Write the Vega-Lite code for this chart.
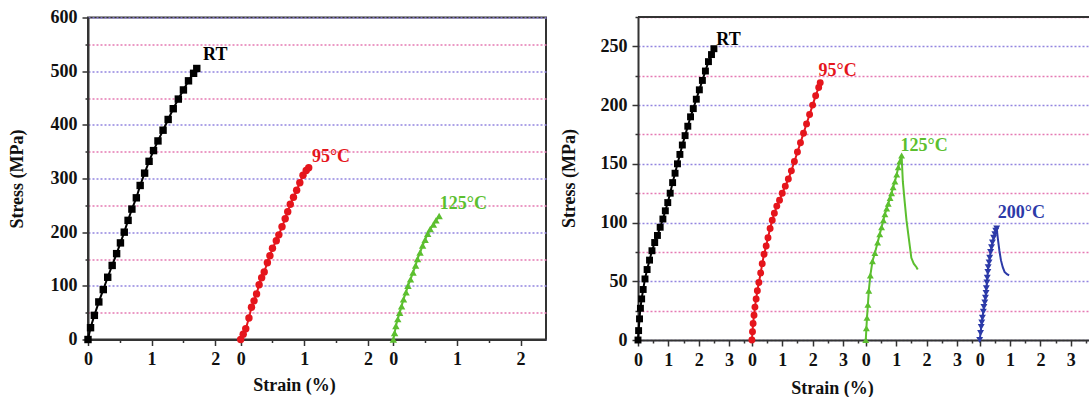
{
  "$schema": "https://vega.github.io/schema/vega-lite/v6.json",
  "background": "white",
  "padding": {"left": 7, "top": 7, "right": 0, "bottom": 0},
  "spacing": 92,
  "bounds": "flush",
  "center": true,
  "config": {
    "view": {"stroke": null},
    "font": "Liberation Serif",
    "axis": {
      "labelFont": "Liberation Serif", "labelFontWeight": "bold", "labelFontSize": 18, "labelColor": "#111",
      "titleFont": "Liberation Serif", "titleFontWeight": "bold", "titleFontSize": 18, "titleColor": "#111",
      "domainColor": "#333", "domainWidth": 2, "tickColor": "#333", "tickWidth": 1.5,
      "gridWidth": 1.5, "gridDash": [2, 2], "labelFlush": false, "labelOverlap": false, "labelBound": false
    }
  },
  "datasets": {
    "left": [
      {"series": "RT", "strain": 0, "stress": 0}, {"series": "RT", "strain": 0.04, "stress": 22}, {"series": "RT", "strain": 0.1, "stress": 45}, {"series": "RT", "strain": 0.17, "stress": 70}, {"series": "RT", "strain": 0.24, "stress": 93}, {"series": "RT", "strain": 0.31, "stress": 116}, {"series": "RT", "strain": 0.38, "stress": 138}, {"series": "RT", "strain": 0.45, "stress": 160}, {"series": "RT", "strain": 0.51, "stress": 180}, {"series": "RT", "strain": 0.57, "stress": 200}, {"series": "RT", "strain": 0.63, "stress": 222}, {"series": "RT", "strain": 0.69, "stress": 243}, {"series": "RT", "strain": 0.76, "stress": 264}, {"series": "RT", "strain": 0.82, "stress": 287}, {"series": "RT", "strain": 0.89, "stress": 310}, {"series": "RT", "strain": 0.96, "stress": 332}, {"series": "RT", "strain": 1.03, "stress": 352}, {"series": "RT", "strain": 1.1, "stress": 370}, {"series": "RT", "strain": 1.18, "stress": 390}, {"series": "RT", "strain": 1.26, "stress": 410}, {"series": "RT", "strain": 1.34, "stress": 430}, {"series": "RT", "strain": 1.42, "stress": 448}, {"series": "RT", "strain": 1.5, "stress": 465}, {"series": "RT", "strain": 1.58, "stress": 482}, {"series": "RT", "strain": 1.66, "stress": 496}, {"series": "RT", "strain": 1.71, "stress": 505},
      {"series": "95°C", "strain": 2.4, "stress": 0}, {"series": "95°C", "strain": 2.44, "stress": 10}, {"series": "95°C", "strain": 2.48, "stress": 20}, {"series": "95°C", "strain": 2.53, "stress": 40}, {"series": "95°C", "strain": 2.57, "stress": 60}, {"series": "95°C", "strain": 2.61, "stress": 72}, {"series": "95°C", "strain": 2.65, "stress": 85}, {"series": "95°C", "strain": 2.69, "stress": 102}, {"series": "95°C", "strain": 2.73, "stress": 115}, {"series": "95°C", "strain": 2.77, "stress": 126}, {"series": "95°C", "strain": 2.82, "stress": 143}, {"series": "95°C", "strain": 2.86, "stress": 156}, {"series": "95°C", "strain": 2.9, "stress": 170}, {"series": "95°C", "strain": 2.96, "stress": 184}, {"series": "95°C", "strain": 3.0, "stress": 195}, {"series": "95°C", "strain": 3.05, "stress": 210}, {"series": "95°C", "strain": 3.1, "stress": 225}, {"series": "95°C", "strain": 3.14, "stress": 238}, {"series": "95°C", "strain": 3.18, "stress": 252}, {"series": "95°C", "strain": 3.23, "stress": 265}, {"series": "95°C", "strain": 3.28, "stress": 278}, {"series": "95°C", "strain": 3.33, "stress": 292}, {"series": "95°C", "strain": 3.38, "stress": 306}, {"series": "95°C", "strain": 3.43, "stress": 315}, {"series": "95°C", "strain": 3.47, "stress": 320},
      {"series": "125°C", "strain": 4.8, "stress": 0}, {"series": "125°C", "strain": 4.82, "stress": 12}, {"series": "125°C", "strain": 4.84, "stress": 25}, {"series": "125°C", "strain": 4.87, "stress": 38}, {"series": "125°C", "strain": 4.9, "stress": 50}, {"series": "125°C", "strain": 4.93, "stress": 62}, {"series": "125°C", "strain": 4.96, "stress": 75}, {"series": "125°C", "strain": 5.0, "stress": 88}, {"series": "125°C", "strain": 5.03, "stress": 100}, {"series": "125°C", "strain": 5.07, "stress": 112}, {"series": "125°C", "strain": 5.11, "stress": 125}, {"series": "125°C", "strain": 5.15, "stress": 138}, {"series": "125°C", "strain": 5.18, "stress": 150}, {"series": "125°C", "strain": 5.22, "stress": 162}, {"series": "125°C", "strain": 5.26, "stress": 175}, {"series": "125°C", "strain": 5.3, "stress": 186}, {"series": "125°C", "strain": 5.34, "stress": 197}, {"series": "125°C", "strain": 5.38, "stress": 206}, {"series": "125°C", "strain": 5.43, "stress": 214}, {"series": "125°C", "strain": 5.47, "stress": 222}, {"series": "125°C", "strain": 5.52, "stress": 230}
    ],
    "leftLabels": [
      {"series": "RT", "strain": 2.0, "stress": 531, "label": "RT"},
      {"series": "95°C", "strain": 3.82, "stress": 340, "label": "95°C"},
      {"series": "125°C", "strain": 5.9, "stress": 253, "label": "125°C"}
    ],
    "right": [
      {"series": "RT", "strain": 0, "stress": 0}, {"series": "RT", "strain": 0.02, "stress": 8}, {"series": "RT", "strain": 0.05, "stress": 18}, {"series": "RT", "strain": 0.08, "stress": 27}, {"series": "RT", "strain": 0.12, "stress": 35}, {"series": "RT", "strain": 0.17, "stress": 43}, {"series": "RT", "strain": 0.23, "stress": 52}, {"series": "RT", "strain": 0.3, "stress": 60}, {"series": "RT", "strain": 0.38, "stress": 68}, {"series": "RT", "strain": 0.46, "stress": 76}, {"series": "RT", "strain": 0.55, "stress": 83}, {"series": "RT", "strain": 0.64, "stress": 89}, {"series": "RT", "strain": 0.73, "stress": 96}, {"series": "RT", "strain": 0.82, "stress": 103}, {"series": "RT", "strain": 0.9, "stress": 110}, {"series": "RT", "strain": 0.98, "stress": 117}, {"series": "RT", "strain": 1.06, "stress": 125}, {"series": "RT", "strain": 1.14, "stress": 134}, {"series": "RT", "strain": 1.22, "stress": 142}, {"series": "RT", "strain": 1.3, "stress": 150}, {"series": "RT", "strain": 1.38, "stress": 158}, {"series": "RT", "strain": 1.46, "stress": 166}, {"series": "RT", "strain": 1.55, "stress": 174}, {"series": "RT", "strain": 1.64, "stress": 182}, {"series": "RT", "strain": 1.73, "stress": 190}, {"series": "RT", "strain": 1.82, "stress": 197}, {"series": "RT", "strain": 1.92, "stress": 205}, {"series": "RT", "strain": 2.02, "stress": 213}, {"series": "RT", "strain": 2.12, "stress": 221}, {"series": "RT", "strain": 2.22, "stress": 229}, {"series": "RT", "strain": 2.32, "stress": 237}, {"series": "RT", "strain": 2.42, "stress": 243}, {"series": "RT", "strain": 2.5, "stress": 248},
      {"series": "95°C", "strain": 3.75, "stress": 0}, {"series": "95°C", "strain": 3.77, "stress": 7}, {"series": "95°C", "strain": 3.79, "stress": 14}, {"series": "95°C", "strain": 3.82, "stress": 21}, {"series": "95°C", "strain": 3.85, "stress": 28}, {"series": "95°C", "strain": 3.89, "stress": 35}, {"series": "95°C", "strain": 3.93, "stress": 42}, {"series": "95°C", "strain": 3.98, "stress": 49}, {"series": "95°C", "strain": 4.04, "stress": 57}, {"series": "95°C", "strain": 4.09, "stress": 65}, {"series": "95°C", "strain": 4.15, "stress": 73}, {"series": "95°C", "strain": 4.22, "stress": 80}, {"series": "95°C", "strain": 4.28, "stress": 87}, {"series": "95°C", "strain": 4.35, "stress": 95}, {"series": "95°C", "strain": 4.42, "stress": 102}, {"series": "95°C", "strain": 4.49, "stress": 108}, {"series": "95°C", "strain": 4.57, "stress": 114}, {"series": "95°C", "strain": 4.66, "stress": 119}, {"series": "95°C", "strain": 4.75, "stress": 125}, {"series": "95°C", "strain": 4.85, "stress": 131}, {"series": "95°C", "strain": 4.95, "stress": 137}, {"series": "95°C", "strain": 5.05, "stress": 144}, {"series": "95°C", "strain": 5.15, "stress": 152}, {"series": "95°C", "strain": 5.25, "stress": 160}, {"series": "95°C", "strain": 5.35, "stress": 168}, {"series": "95°C", "strain": 5.45, "stress": 176}, {"series": "95°C", "strain": 5.55, "stress": 184}, {"series": "95°C", "strain": 5.65, "stress": 192}, {"series": "95°C", "strain": 5.75, "stress": 200}, {"series": "95°C", "strain": 5.85, "stress": 208}, {"series": "95°C", "strain": 5.95, "stress": 215}, {"series": "95°C", "strain": 6.0, "stress": 219},
      {"series": "125°C", "strain": 7.5, "stress": 0}, {"series": "125°C", "strain": 7.52, "stress": 10}, {"series": "125°C", "strain": 7.54, "stress": 19}, {"series": "125°C", "strain": 7.57, "stress": 30}, {"series": "125°C", "strain": 7.6, "stress": 42}, {"series": "125°C", "strain": 7.65, "stress": 55}, {"series": "125°C", "strain": 7.72, "stress": 67}, {"series": "125°C", "strain": 7.8, "stress": 74}, {"series": "125°C", "strain": 7.89, "stress": 83}, {"series": "125°C", "strain": 7.96, "stress": 90}, {"series": "125°C", "strain": 8.02, "stress": 96}, {"series": "125°C", "strain": 8.08, "stress": 102}, {"series": "125°C", "strain": 8.13, "stress": 107}, {"series": "125°C", "strain": 8.19, "stress": 112}, {"series": "125°C", "strain": 8.24, "stress": 116}, {"series": "125°C", "strain": 8.3, "stress": 121}, {"series": "125°C", "strain": 8.35, "stress": 125}, {"series": "125°C", "strain": 8.4, "stress": 130}, {"series": "125°C", "strain": 8.46, "stress": 135}, {"series": "125°C", "strain": 8.52, "stress": 141}, {"series": "125°C", "strain": 8.57, "stress": 147}, {"series": "125°C", "strain": 8.62, "stress": 152}, {"series": "125°C", "strain": 8.68, "stress": 157},
      {"series": "125°C", "strain": 8.72, "stress": 135, "phase": "softening"}, {"series": "125°C", "strain": 8.78, "stress": 118, "phase": "softening"}, {"series": "125°C", "strain": 8.84, "stress": 102, "phase": "softening"}, {"series": "125°C", "strain": 8.9, "stress": 90, "phase": "softening"}, {"series": "125°C", "strain": 8.95, "stress": 80, "phase": "softening"}, {"series": "125°C", "strain": 9.0, "stress": 70, "phase": "softening"}, {"series": "125°C", "strain": 9.08, "stress": 65, "phase": "softening"}, {"series": "125°C", "strain": 9.17, "stress": 62, "phase": "softening"}, {"series": "125°C", "strain": 9.21, "stress": 60, "phase": "softening"},
      {"series": "200°C", "strain": 11.25, "stress": 0}, {"series": "200°C", "strain": 11.28, "stress": 6}, {"series": "200°C", "strain": 11.3, "stress": 11}, {"series": "200°C", "strain": 11.32, "stress": 15}, {"series": "200°C", "strain": 11.34, "stress": 19}, {"series": "200°C", "strain": 11.37, "stress": 24}, {"series": "200°C", "strain": 11.39, "stress": 28}, {"series": "200°C", "strain": 11.42, "stress": 32}, {"series": "200°C", "strain": 11.44, "stress": 36}, {"series": "200°C", "strain": 11.46, "stress": 40}, {"series": "200°C", "strain": 11.47, "stress": 44}, {"series": "200°C", "strain": 11.49, "stress": 49}, {"series": "200°C", "strain": 11.5, "stress": 53}, {"series": "200°C", "strain": 11.52, "stress": 58}, {"series": "200°C", "strain": 11.53, "stress": 62}, {"series": "200°C", "strain": 11.56, "stress": 66}, {"series": "200°C", "strain": 11.58, "stress": 70}, {"series": "200°C", "strain": 11.61, "stress": 75}, {"series": "200°C", "strain": 11.64, "stress": 79}, {"series": "200°C", "strain": 11.67, "stress": 83}, {"series": "200°C", "strain": 11.71, "stress": 87}, {"series": "200°C", "strain": 11.75, "stress": 90}, {"series": "200°C", "strain": 11.78, "stress": 93}, {"series": "200°C", "strain": 11.81, "stress": 95},
      {"series": "200°C", "strain": 11.85, "stress": 86, "phase": "softening"}, {"series": "200°C", "strain": 11.9, "stress": 76, "phase": "softening"}, {"series": "200°C", "strain": 11.95, "stress": 68, "phase": "softening"}, {"series": "200°C", "strain": 12.01, "stress": 62, "phase": "softening"}, {"series": "200°C", "strain": 12.07, "stress": 58, "phase": "softening"}, {"series": "200°C", "strain": 12.15, "stress": 56, "phase": "softening"}, {"series": "200°C", "strain": 12.22, "stress": 55, "phase": "softening"}
    ],
    "rightLabels": [
      {"series": "RT", "strain": 2.98, "stress": 255, "label": "RT"},
      {"series": "95°C", "strain": 6.57, "stress": 229, "label": "95°C"},
      {"series": "125°C", "strain": 9.42, "stress": 165, "label": "125°C"},
      {"series": "200°C", "strain": 12.62, "stress": 108, "label": "200°C"}
    ]
  },
  "hconcat": [
    {
      "width": 458,
      "height": 322,
      "view": {"stroke": "#333", "strokeWidth": 2},
      "layer": [
        {
          "data": {"name": "left"},
          "mark": {"type": "line", "strokeWidth": 2},
          "encoding": {
            "x": {"field": "strain", "type": "quantitative",
              "scale": {"domain": [0, 7.2], "nice": false, "zero": false},
              "axis": {
                "title": "Strain (%)", "titleX": 206, "titleY": 46, "titleBaseline": "middle", "titleAnchor": null,
                "values": [0, 0.5, 1, 1.5, 2, 2.4, 2.9, 3.4, 3.9, 4.4, 4.8, 5.3, 5.8, 6.3, 6.8], "tickCount": 200,
                "labelExpr": "(round(datum.value*10)%24)%10==0 ? format((round(datum.value*10)%24)/10,'d') : ''",
                "tickSize": {"condition": {"test": "(round(datum.value*10)%24)%10==0", "value": 6}, "value": 3},
                "labelPadding": 5, "labelOverlap": false, "labelFlush": false, "grid": false
              }},
            "y": {"field": "stress", "type": "quantitative",
              "scale": {"domain": [0, 600], "nice": false},
              "axis": {
                "title": "Stress (MPa)", "titleX": -71, "titleY": 161, "titleBaseline": "middle", "titleAlign": "center", "titleAngle": 270,
                "values": [0, 50, 100, 150, 200, 250, 300, 350, 400, 450, 500, 550, 600], "tickCount": 200,
                "labelExpr": "datum.value % 100 == 0 ? datum.label : ''",
                "tickSize": {"condition": {"test": "datum.value % 100 == 0", "value": 6}, "value": 3},
                "labelPadding": 5, "labelOverlap": false, "grid": true,
                "gridColor": {"condition": {"test": "datum.value % 100 == 0", "value": "#9385e0"}, "value": "#e57ab3"}
              }},
            "color": {"field": "series", "type": "nominal", "legend": null,
              "scale": {"domain": ["RT", "95°C", "125°C", "200°C"], "range": ["#000000", "#e5151c", "#5cbf2f", "#2c3aa8"]}}
          }
        },
        {
          "data": {"name": "left"},
          "mark": {"type": "point", "filled": true, "opacity": 1, "size": 55},
          "encoding": {
            "x": {"field": "strain", "type": "quantitative"},
            "y": {"field": "stress", "type": "quantitative"},
            "color": {"field": "series", "type": "nominal", "legend": null},
            "shape": {"field": "series", "type": "nominal", "legend": null,
              "scale": {"domain": ["RT", "95°C", "125°C", "200°C"], "range": ["square", "circle", "triangle-up", "triangle-down"]}}
          }
        },
        {
          "data": {"name": "leftLabels"},
          "mark": {"type": "text", "font": "Liberation Serif", "fontWeight": "bold", "fontSize": 18, "align": "center", "baseline": "middle"},
          "encoding": {
            "x": {"field": "strain", "type": "quantitative"},
            "y": {"field": "stress", "type": "quantitative"},
            "text": {"field": "label"},
            "color": {"field": "series", "type": "nominal", "legend": null}
          }
        }
      ]
    },
    {
      "width": 451,
      "height": 323,
      "layer": [
        {
          "data": {"name": "right"},
          "mark": {"type": "line", "strokeWidth": 2},
          "encoding": {
            "x": {"field": "strain", "type": "quantitative",
              "scale": {"domain": [0, 14.85], "nice": false, "zero": false},
              "axis": {
                "title": "Strain (%)", "titleX": 194, "titleY": 48, "titleBaseline": "middle", "titleAnchor": null,
                "values": [0, 0.5, 1, 1.5, 2, 2.5, 3, 3.5, 3.75, 4.25, 4.75, 5.25, 5.75, 6.25, 6.75, 7.25, 7.5, 8, 8.5, 9, 9.5, 10, 10.5, 11, 11.25, 11.75, 12.25, 12.75, 13.25, 13.75, 14.25, 14.75], "tickCount": 200,
                "labelExpr": "(round(datum.value*100)%375)%100==0 ? format((round(datum.value*100)%375)/100,'d') : ''",
                "tickSize": {"condition": {"test": "(round(datum.value*100)%375)%100==0", "value": 6}, "value": 3},
                "labelPadding": 5, "labelOverlap": false, "labelFlush": false, "grid": false
              }},
            "y": {"field": "stress", "type": "quantitative",
              "scale": {"domain": [0, 275], "nice": false},
              "axis": {
                "title": "Stress (MPa)", "titleX": -69, "titleY": 161, "titleBaseline": "middle", "titleAlign": "center", "titleAngle": 270,
                "values": [0, 25, 50, 75, 100, 125, 150, 175, 200, 225, 250, 275], "tickCount": 200,
                "labelExpr": "datum.value % 50 == 0 ? datum.label : ''",
                "tickSize": {"condition": {"test": "datum.value % 50 == 0", "value": 6}, "value": 3},
                "labelPadding": 5, "labelOverlap": false, "grid": true,
                "gridColor": {"condition": {"test": "datum.value % 50 == 0", "value": "#9385e0"}, "value": "#e57ab3"}
              }},
            "color": {"field": "series", "type": "nominal", "legend": null}
          }
        },
        {
          "data": {"name": "right"},
          "transform": [{"filter": "datum.phase != 'softening'"}],
          "mark": {"type": "point", "filled": true, "opacity": 1, "size": 48},
          "encoding": {
            "x": {"field": "strain", "type": "quantitative"},
            "y": {"field": "stress", "type": "quantitative"},
            "color": {"field": "series", "type": "nominal", "legend": null},
            "shape": {"field": "series", "type": "nominal", "legend": null}
          }
        },
        {
          "data": {"name": "rightLabels"},
          "mark": {"type": "text", "font": "Liberation Serif", "fontWeight": "bold", "fontSize": 18, "align": "center", "baseline": "middle"},
          "encoding": {
            "x": {"field": "strain", "type": "quantitative"},
            "y": {"field": "stress", "type": "quantitative"},
            "text": {"field": "label"},
            "color": {"field": "series", "type": "nominal", "legend": null}
          }
        },
        {
          "data": {"values": [{}]},
          "mark": {"type": "rule", "color": "#333", "strokeWidth": 2},
          "encoding": {"y": {"datum": 275}}
        }
      ]
    }
  ]
}
